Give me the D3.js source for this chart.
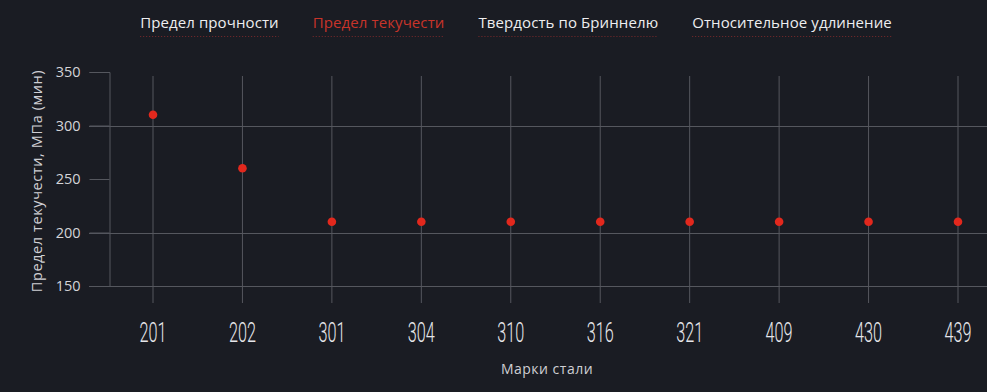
<!DOCTYPE html>
<html>
<head>
<meta charset="utf-8">
<script src="https://cdn.jsdelivr.net/npm/d3@7"></script>
<style>
  html, body { margin: 0; padding: 0; background: #1a1c23; }
  svg { display: block; font-family: "Open Sans", sans-serif; }
</style>
</head>
<body>
<svg id="chart" width="987" height="392"></svg>
<script>
// steel grades and minimal yield strength, MPa
var grades = ["201", "202", "301", "304", "310", "316", "321", "409", "430", "439"];
var yieldMin = [310, 260, 210, 210, 210, 210, 210, 210, 210, 210];
var legendItems = ["Предел прочности", "Предел текучести", "Твердость по Бриннелю", "Относительное удлинение"];
var activeLegend = 1;
var yTicks = [150, 200, 250, 300, 350];
var yGrid = [150, 200, 300];

var W = 987, H = 392;
var svg = d3.select("#chart");

svg.append("rect").attr("width", W).attr("height", H).attr("fill", "#1a1c23");

var x = d3.scalePoint()
    .domain(grades)
    .range([153, 958]);

var y = d3.scaleLinear()
    .domain([150, 350])
    .range([286, 72]);

var gridColor = "#55575e";

// vertical lines on each grade
svg.append("g").selectAll("line")
    .data(grades)
    .enter().append("line")
    .attr("x1", function(d) { return x(d); })
    .attr("x2", function(d) { return x(d); })
    .attr("y1", 76)
    .attr("y2", 303)
    .attr("stroke", gridColor)
    .attr("stroke-width", 1);

// horizontal grid
svg.append("g").selectAll("line")
    .data(yGrid)
    .enter().append("line")
    .attr("x1", 89)
    .attr("x2", W)
    .attr("y1", function(d) { return Math.round(y(d)) + 0.5; })
    .attr("y2", function(d) { return Math.round(y(d)) + 0.5; })
    .attr("stroke", gridColor);

// y axis with minor ticks
var yAxisG = svg.append("g").attr("transform", "translate(109.5,0)");
yAxisG.call(d3.axisLeft(y).tickValues(d3.range(150, 351, 10)).tickSize(11).tickFormat(""));
yAxisG.call(d3.axisLeft(y).tickValues(yTicks).tickSize(20).tickPadding(9));
yAxisG.selectAll(".domain").attr("stroke", gridColor);
yAxisG.selectAll(".tick line").attr("stroke", gridColor);
yAxisG.selectAll(".tick text")
    .attr("fill", "#d4d4d8")
    .style("font-size", "14.5px")
    .style("font-family", "'Open Sans', sans-serif");

// x tick labels, condensed
svg.append("g").selectAll("text")
    .data(grades)
    .enter().append("text")
    .attr("transform", function(d) { return "translate(" + x(d) + ",342) scale(0.58,1)"; })
    .attr("text-anchor", "middle")
    .attr("fill", "#e6e6ea")
    .style("font-family", "Roboto, sans-serif")
    .style("font-weight", 300)
    .style("font-size", "28px")
    .text(function(d) { return d; });

// dots
svg.append("g").selectAll("circle")
    .data(grades)
    .enter().append("circle")
    .attr("cx", function(d) { return x(d); })
    .attr("cy", function(d, i) { return y(yieldMin[i]); })
    .attr("r", 4.3)
    .attr("fill", "#e2281d");

// axis titles
svg.append("text")
    .attr("x", 547).attr("y", 374)
    .attr("text-anchor", "middle")
    .attr("fill", "#cfcfd4")
    .style("font-size", "14px")
    .style("letter-spacing", "0.5px")
    .text("Марки стали");

svg.append("text")
    .attr("transform", "translate(42,181) rotate(-90)")
    .attr("text-anchor", "middle")
    .attr("fill", "#cfcfd4")
    .style("font-size", "14.5px")
    .style("letter-spacing", "0.6px")
    .text("Предел текучести, МПа (мин)");

// legend
var legend = svg.append("g");
var items = legend.selectAll("g")
    .data(legendItems)
    .enter().append("g");
items.append("text")
    .attr("y", 28)
    .attr("fill", function(d, i) { return i === activeLegend ? "#c8342a" : "#eeeef0"; })
    .style("font-size", "15px")
    .style("letter-spacing", "0.1px")
    .text(function(d) { return d; });
var gap = 34, pos = 0, total = 0;
var widths = [];
items.select("text").each(function() { widths.push(this.getComputedTextLength()); });
total = d3.sum(widths) + gap * (widths.length - 1);
pos = 516 - total / 2;
items.each(function(d, i) {
  var g = d3.select(this);
  g.attr("transform", "translate(" + pos + ",0)");
  g.append("line")
      .attr("x1", 0).attr("x2", widths[i])
      .attr("y1", 36.5).attr("y2", 36.5)
      .attr("stroke", "#7d2a2c")
      .attr("stroke-dasharray", "1,2");
  pos += widths[i] + gap;
});
</script>
</body>
</html>
